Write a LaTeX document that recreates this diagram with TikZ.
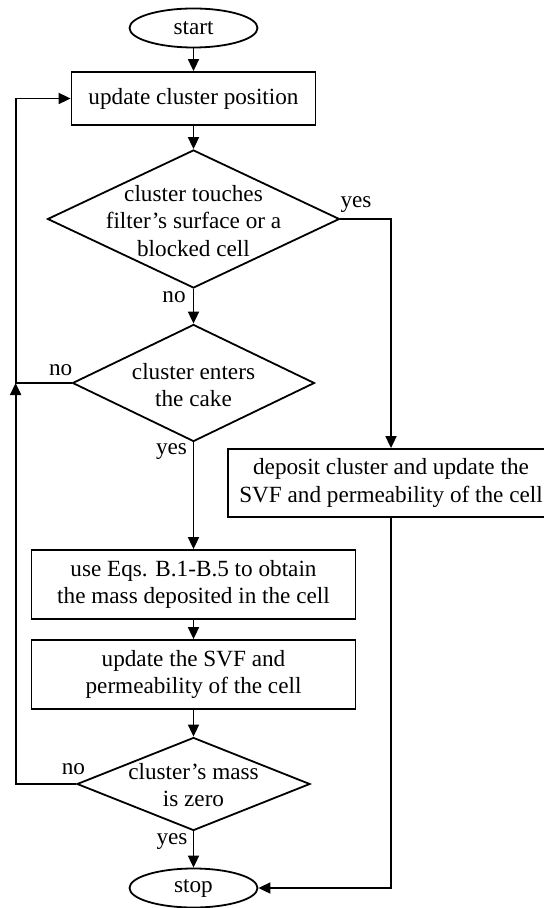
\documentclass[tikz,border=0pt]{standalone}
\usepackage{fontspec}
\setmainfont{Liberation Serif}
\usepackage{tikz}
\usetikzlibrary{arrows.meta, shapes.geometric}

\begin{document}
\begin{tikzpicture}[x=0.5pt, y=-0.5pt,
  font=\fontsize{11.6}{13.75}\selectfont,
  every node/.style={inner sep=0pt},
  termnode/.style={draw, ellipse, line width=0.9pt, minimum width=64pt, minimum height=19.5pt},
  procbox/.style={draw, rectangle, line width=0.9pt, align=center},
  decision/.style={draw, diamond, line width=0.9pt},
  intext/.style={align=center},
  flow/.style={line width=0.9pt, -{Triangle[length=6pt, width=5.5pt]}}]
\useasboundingbox (0,0) rectangle (543,908);
\node[termnode] (start) at (193.5,28) {start};
\node[procbox, minimum width=122pt, minimum height=26.5pt] (move) at (193.5,98.5) {update cluster position};
\node[decision, minimum width=146pt, minimum height=69pt,
  label={[intext, yshift=-1pt]center:cluster touches\\filter's surface or a\\blocked cell}] (touch) at (193.5,219) {};
\node[decision, minimum width=121pt, minimum height=58.5pt,
  label={[intext, yshift=-1pt]center:cluster enters\\the cake}] (enter) at (193.5,383) {};
\node[procbox, minimum width=163pt, minimum height=34pt] (deposit) at (391,483) {deposit cluster and update the\\SVF and permeability of the cell};
\node[procbox, minimum width=162pt, minimum height=34.5pt] (calc) at (193.5,584.5) {use Eqs. B.1-B.5 to obtain\\the mass deposited in the cell};
\node[procbox, minimum width=162pt, minimum height=34.5pt] (svf) at (193.5,674.5) {update the SVF and\\permeability of the cell};
\node[decision, minimum width=116.5pt, minimum height=46.5pt,
  label={[intext, yshift=-0.5pt]center:cluster's mass\\is zero}] (zero) at (193.5,784) {};
\node[termnode] (stop) at (193.5,888) {stop};
\coordinate (back) at (15.6,383);
% branch labels
\node (yes1) at (356,205) {yes};
\node (no1) at (174,297) {no};
\node (no2) at (60.6,370) {no};
\node (yes2) at (171.5,452) {yes};
\node (no3) at (73.4,769) {no};
\node (yes3) at (172,842) {yes};
% connectors
\draw[flow] (start) to (move);
\draw[flow] (move) to (touch);
\draw[flow] (touch) to (enter);
\draw[flow] (touch.east) -| (deposit);
\draw[flow] (enter) to (calc);
\draw[flow] (enter.west) -- (back) |- (move.west);
\draw[flow] (calc) to (svf);
\draw[flow] (svf) to (zero);
\draw[flow] (zero) to (stop);
\draw[flow] (zero.west) -| (back);
\draw[flow] (deposit) |- (stop.east);
\end{tikzpicture}
\end{document}
